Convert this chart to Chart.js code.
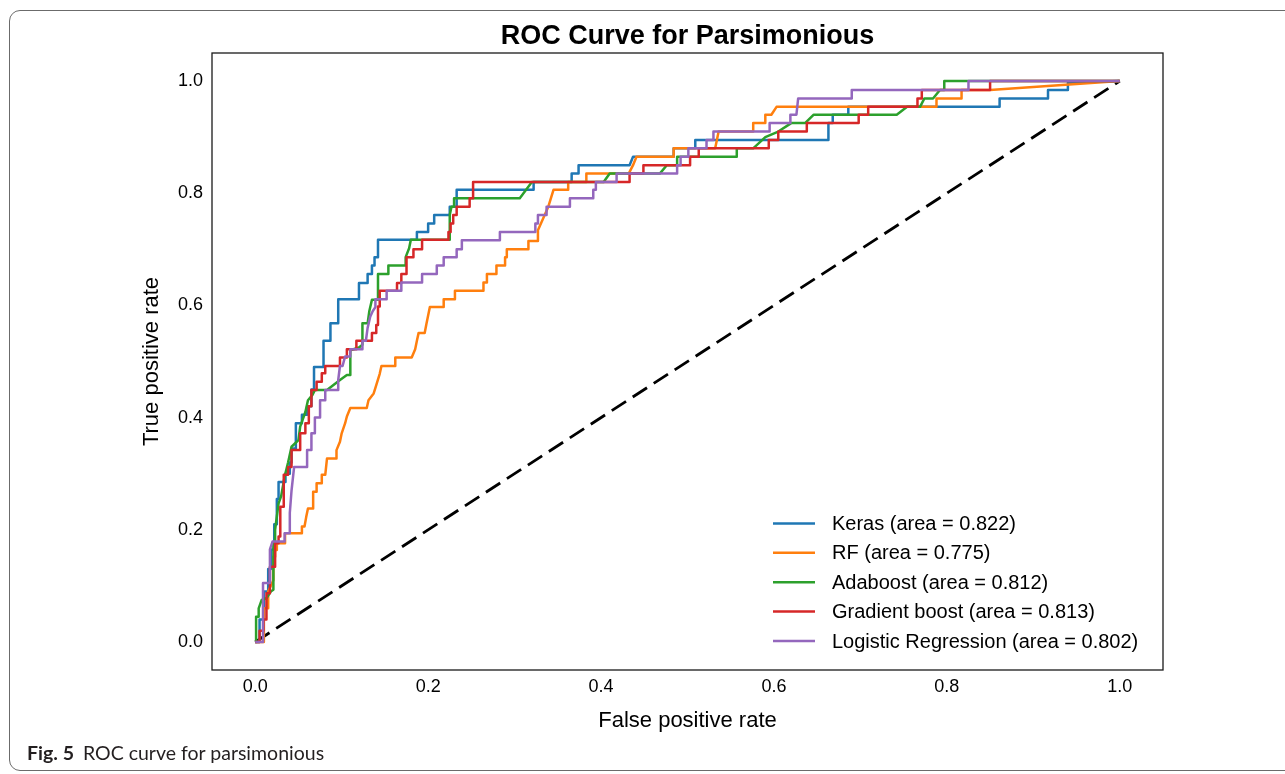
<!DOCTYPE html>
<html>
<head>
<meta charset="utf-8">
<script src="https://cdn.jsdelivr.net/npm/chart.js@4.4.1/dist/chart.umd.min.js"></script>
<style>
  html, body { margin: 0; padding: 0; background: #fff; }
  #wrap { position: relative; width: 1285px; height: 774px; overflow: hidden; }
  #rocChart { position: absolute; left: 0; top: 0; }
  .frame {
    position: absolute; left: 9px; top: 10px; width: 1320px; height: 759px;
    border: 1.5px solid #6b6b6b; border-radius: 11px; pointer-events: none;
  }
  .caption {
    position: absolute; left: 27px; top: 743px; line-height: 1;
    font-family: Lato, "Open Sans", sans-serif; font-size: 19.5px; color: #231f20;
  }
  .caption b { margin-right: 9px; }
</style>
</head>
<body>
<div id="wrap">
  <canvas id="rocChart" width="1285" height="774"></canvas>
  <div class="frame"></div>
  <div class="caption"><b>Fig. 5</b>ROC curve for parsimonious</div>
</div>
<script>
// ROC points: [false positive rate, true positive rate]
const kerasRoc = [
  [0,0],[0.005,0],[0.005,0.04],[0.01,0.04],[0.01,0.09],[0.015,0.09],[0.015,0.13],[0.018,0.13],
  [0.018,0.165],[0.022,0.165],[0.022,0.21],[0.025,0.21],[0.025,0.255],[0.027,0.255],[0.027,0.285],
  [0.035,0.285],[0.035,0.30],[0.04,0.30],[0.04,0.32],[0.042,0.32],[0.042,0.345],[0.047,0.345],
  [0.047,0.39],[0.054,0.39],[0.054,0.405],[0.06,0.405],[0.06,0.42],[0.065,0.42],[0.065,0.45],
  [0.068,0.45],[0.068,0.49],[0.079,0.49],[0.079,0.537],[0.087,0.537],[0.087,0.568],[0.096,0.568],
  [0.096,0.611],[0.12,0.611],[0.12,0.64],[0.13,0.64],[0.13,0.656],[0.135,0.656],[0.135,0.671],
  [0.138,0.671],[0.138,0.686],[0.142,0.686],[0.142,0.717],[0.187,0.717],[0.187,0.731],[0.2,0.731],
  [0.2,0.746],[0.207,0.746],[0.207,0.761],[0.225,0.761],[0.225,0.776],[0.233,0.776],[0.233,0.806],
  [0.322,0.806],[0.322,0.82],[0.366,0.82],[0.366,0.835],[0.374,0.835],[0.374,0.85],[0.433,0.85],
  [0.437,0.865],[0.484,0.865],[0.484,0.88],[0.509,0.88],[0.509,0.895],[0.663,0.895],[0.663,0.925],
  [0.668,0.925],[0.668,0.94],[0.686,0.94],[0.686,0.954],[0.861,0.954],[0.861,0.969],[0.917,0.969],
  [0.917,0.984],[0.94,0.984],[0.94,0.997],[1,1]
];
const rfRoc = [
  [0,0],[0.01,0],[0.01,0.06],[0.015,0.06],[0.015,0.09],[0.021,0.11],[0.021,0.152],[0.023,0.152],
  [0.023,0.164],[0.025,0.164],[0.025,0.176],[0.0345,0.176],[0.0345,0.194],[0.054,0.194],[0.054,0.206],
  [0.057,0.206],[0.059,0.223],[0.061,0.238],[0.067,0.238],[0.067,0.268],[0.071,0.268],[0.071,0.283],
  [0.077,0.283],[0.077,0.298],[0.081,0.298],[0.083,0.327],[0.094,0.327],[0.094,0.342],[0.098,0.357],
  [0.1,0.372],[0.104,0.39],[0.106,0.402],[0.11,0.417],[0.129,0.417],[0.131,0.431],[0.137,0.443],
  [0.14,0.458],[0.144,0.478],[0.146,0.492],[0.162,0.492],[0.162,0.507],[0.181,0.507],[0.185,0.522],
  [0.187,0.537],[0.189,0.551],[0.196,0.551],[0.198,0.567],[0.2,0.582],[0.202,0.597],[0.218,0.597],
  [0.218,0.611],[0.231,0.611],[0.231,0.626],[0.264,0.626],[0.264,0.641],[0.268,0.641],[0.268,0.656],
  [0.279,0.656],[0.279,0.671],[0.289,0.671],[0.289,0.686],[0.291,0.686],[0.291,0.70],[0.316,0.70],
  [0.316,0.715],[0.326,0.715],[0.327,0.734],[0.339,0.776],[0.345,0.806],[0.362,0.806],[0.362,0.82],
  [0.383,0.82],[0.383,0.835],[0.432,0.835],[0.437,0.85],[0.441,0.865],[0.484,0.865],[0.484,0.88],
  [0.532,0.88],[0.534,0.895],[0.536,0.91],[0.576,0.91],[0.576,0.925],[0.59,0.925],[0.59,0.94],
  [0.597,0.94],[0.603,0.954],[0.788,0.954],[0.788,0.969],[0.817,0.969],[0.817,0.984],[0.85,0.984],[1,1]
];
const adaRoc = [
  [0,0],[0.001,0],[0.001,0.045],[0.004,0.045],[0.004,0.06],[0.0075,0.075],[0.013,0.078],[0.018,0.09],
  [0.021,0.093],[0.021,0.176],[0.023,0.176],[0.023,0.2],[0.027,0.247],[0.03,0.26],[0.034,0.295],
  [0.038,0.32],[0.042,0.348],[0.05,0.36],[0.052,0.384],[0.058,0.41],[0.061,0.431],[0.066,0.44],
  [0.069,0.449],[0.083,0.449],[0.098,0.467],[0.106,0.476],[0.11,0.476],[0.11,0.52],[0.12,0.525],
  [0.124,0.53],[0.124,0.568],[0.13,0.568],[0.132,0.59],[0.135,0.61],[0.142,0.61],[0.142,0.656],
  [0.154,0.656],[0.154,0.671],[0.174,0.671],[0.174,0.686],[0.178,0.702],[0.18,0.717],[0.225,0.717],
  [0.225,0.761],[0.227,0.776],[0.23,0.776],[0.23,0.791],[0.306,0.791],[0.32,0.82],[0.403,0.82],
  [0.41,0.835],[0.468,0.835],[0.476,0.85],[0.488,0.85],[0.488,0.865],[0.557,0.865],[0.557,0.88],
  [0.576,0.88],[0.59,0.9],[0.605,0.91],[0.62,0.925],[0.636,0.925],[0.646,0.94],[0.742,0.94],
  [0.754,0.954],[0.769,0.954],[0.774,0.969],[0.784,0.969],[0.792,0.984],[0.797,0.984],[0.797,1],[1,1]
];
const gbRoc = [
  [0,0],[0.005,0],[0.005,0.02],[0.0095,0.02],[0.0095,0.04],[0.013,0.04],[0.013,0.087],[0.017,0.087],
  [0.017,0.134],[0.023,0.134],[0.023,0.176],[0.027,0.176],[0.027,0.188],[0.029,0.188],[0.029,0.241],
  [0.033,0.241],[0.033,0.298],[0.038,0.298],[0.038,0.312],[0.042,0.312],[0.042,0.342],[0.052,0.342],
  [0.052,0.372],[0.058,0.372],[0.058,0.39],[0.062,0.39],[0.062,0.42],[0.065,0.42],[0.065,0.449],
  [0.071,0.449],[0.071,0.464],[0.077,0.464],[0.077,0.479],[0.081,0.479],[0.081,0.492],[0.098,0.492],
  [0.098,0.507],[0.106,0.507],[0.106,0.522],[0.117,0.522],[0.117,0.537],[0.135,0.537],[0.135,0.551],
  [0.14,0.551],[0.14,0.565],[0.142,0.565],[0.142,0.598],[0.144,0.598],[0.144,0.61],[0.144,0.626],
  [0.164,0.626],[0.164,0.64],[0.169,0.64],[0.169,0.656],[0.175,0.656],[0.175,0.686],[0.183,0.686],
  [0.183,0.70],[0.193,0.70],[0.193,0.717],[0.2235,0.717],[0.2235,0.731],[0.226,0.731],[0.226,0.746],
  [0.229,0.746],[0.229,0.761],[0.233,0.761],[0.233,0.776],[0.248,0.776],[0.248,0.791],[0.252,0.791],
  [0.252,0.82],[0.433,0.82],[0.433,0.835],[0.449,0.835],[0.449,0.85],[0.503,0.85],[0.503,0.865],
  [0.513,0.865],[0.513,0.88],[0.594,0.88],[0.594,0.895],[0.605,0.895],[0.605,0.91],[0.638,0.91],
  [0.638,0.925],[0.698,0.925],[0.698,0.94],[0.709,0.94],[0.709,0.954],[0.766,0.954],[0.766,0.969],
  [0.771,0.969],[0.771,0.984],[0.85,0.984],[0.85,1],[1,1]
];
const lrRoc = [
  [0,0],[0.009,0],[0.009,0.105],[0.017,0.105],[0.017,0.165],[0.02,0.179],[0.034,0.179],[0.034,0.194],
  [0.04,0.194],[0.04,0.23],[0.042,0.27],[0.045,0.312],[0.06,0.312],[0.06,0.342],[0.065,0.342],
  [0.065,0.372],[0.069,0.372],[0.069,0.4],[0.075,0.4],[0.075,0.431],[0.081,0.431],[0.081,0.449],
  [0.096,0.449],[0.096,0.467],[0.098,0.492],[0.101,0.492],[0.104,0.509],[0.11,0.509],[0.11,0.522],
  [0.124,0.522],[0.124,0.537],[0.128,0.537],[0.13,0.56],[0.133,0.58],[0.136,0.59],[0.139,0.597],
  [0.139,0.611],[0.152,0.611],[0.152,0.626],[0.169,0.626],[0.169,0.641],[0.193,0.641],[0.193,0.656],
  [0.21,0.656],[0.21,0.671],[0.218,0.671],[0.218,0.686],[0.233,0.686],[0.233,0.70],[0.239,0.70],
  [0.239,0.716],[0.283,0.716],[0.283,0.731],[0.324,0.731],[0.324,0.746],[0.327,0.746],[0.327,0.761],
  [0.337,0.761],[0.337,0.776],[0.364,0.776],[0.364,0.791],[0.391,0.791],[0.391,0.806],[0.394,0.806],
  [0.394,0.82],[0.418,0.82],[0.418,0.835],[0.488,0.835],[0.488,0.85],[0.492,0.85],[0.492,0.865],
  [0.501,0.865],[0.501,0.88],[0.522,0.88],[0.522,0.895],[0.53,0.895],[0.53,0.91],[0.595,0.91],
  [0.595,0.925],[0.619,0.925],[0.619,0.94],[0.626,0.94],[0.628,0.969],[0.69,0.969],[0.69,0.984],
  [0.825,0.984],[0.825,1],[1,1]
];
const chanceLine = [[0,0],[1,1]];

const modelNames = ['Keras', 'RF', 'Adaboost', 'Gradient boost', 'Logistic Regression'];
const aucValues = [0.822, 0.775, 0.812, 0.813, 0.802];
const modelCurves = [kerasRoc, rfRoc, adaRoc, gbRoc, lrRoc];
const modelColors = ['#1f77b4', '#ff7f0e', '#2ca02c', '#d62728', '#9467bd'];
const tickValues = [0, 0.2, 0.4, 0.6, 0.8, 1.0];
const chartTitle = 'ROC Curve for Parsimonious';

const FONT = '"Liberation Sans", Arial, sans-serif';
const toPoints = pts => pts.map(([x, y]) => ({ x, y }));

const datasets = modelCurves.map((curve, i) => ({
  label: `${modelNames[i]} (area = ${aucValues[i].toFixed(3)})`,
  data: toPoints(curve),
  borderColor: modelColors[i],
  borderWidth: 2.5,
  borderJoinStyle: 'round',
  showLine: true,
  pointRadius: 0,
  order: modelCurves.length - 1 - i   // later series on top, like matplotlib
}));
datasets.push({
  label: 'chance',
  data: toPoints(chanceLine),
  borderColor: '#000',
  borderWidth: 2.8,
  borderDash: [17, 8],
  showLine: true,
  pointRadius: 0,
  order: 10
});

// title centred over the axes, box around the axes, legend in the lower right corner
const axesBoxPlugin = {
  id: 'axesBoxPlugin',
  afterDraw(chart) {
    const { ctx, chartArea: { left, top, right, bottom } } = chart;
    ctx.save();
    ctx.strokeStyle = '#1a1a1a';
    ctx.lineWidth = 1.3;
    ctx.strokeRect(left, top, right - left, bottom - top);

    ctx.fillStyle = '#000';
    ctx.font = `bold 27px ${FONT}`;
    ctx.textAlign = 'center';
    ctx.textBaseline = 'middle';
    ctx.fillText(chartTitle, (left + right) / 2, top - 16);

    ctx.font = `20px ${FONT}`;
    ctx.textAlign = 'left';
    const n = modelNames.length;
    for (let i = 0; i < n; i++) {
      const ds = chart.data.datasets[i];
      const y = bottom - 29 - (n - 1 - i) * 29.4;
      ctx.beginPath();
      ctx.moveTo(right - 390, y);
      ctx.lineTo(right - 348, y);
      ctx.strokeStyle = ds.borderColor;
      ctx.lineWidth = 2.5;
      ctx.stroke();
      ctx.fillStyle = '#000';
      ctx.fillText(ds.label, right - 331, y + 1);
    }
    ctx.restore();
  }
};

const ctx = document.getElementById('rocChart').getContext('2d');
new Chart(ctx, {
  type: 'scatter',
  data: { datasets },
  options: {
    responsive: false,
    animation: false,
    layout: { padding: { left: 0, right: 122, top: 53, bottom: 0 } },
    plugins: {
      legend: { display: false },
      tooltip: { enabled: false },
      title: { display: false }
    },
    scales: {
      x: {
        type: 'linear',
        min: -0.05,
        max: 1.05,
        afterBuildTicks: scale => { scale.ticks = tickValues.map(v => ({ value: v })); },
        afterFit: scale => { scale.height = 104; },
        grid: { display: false, drawTicks: false },
        border: { display: false },
        ticks: {
          padding: 6,
          color: '#000',
          font: { family: FONT, size: 18 },
          maxRotation: 0,
          callback: v => v.toFixed(1)
        },
        title: {
          display: true,
          text: 'False positive rate',
          color: '#000',
          font: { family: FONT, size: 22 },
          padding: { top: 0, bottom: 40 }
        }
      },
      y: {
        type: 'linear',
        min: -0.05,
        max: 1.05,
        afterBuildTicks: scale => { scale.ticks = tickValues.map(v => ({ value: v })); },
        afterFit: scale => { scale.width = 212; },
        grid: { display: false, drawTicks: false },
        border: { display: false },
        ticks: {
          padding: 9,
          color: '#000',
          font: { family: FONT, size: 18 },
          callback: v => v.toFixed(1)
        },
        title: {
          display: true,
          text: 'True positive rate',
          color: '#000',
          font: { family: FONT, size: 22 },
          padding: { top: 139, bottom: 0 }
        }
      }
    }
  },
  plugins: [axesBoxPlugin]
});
</script>
</body>
</html>
